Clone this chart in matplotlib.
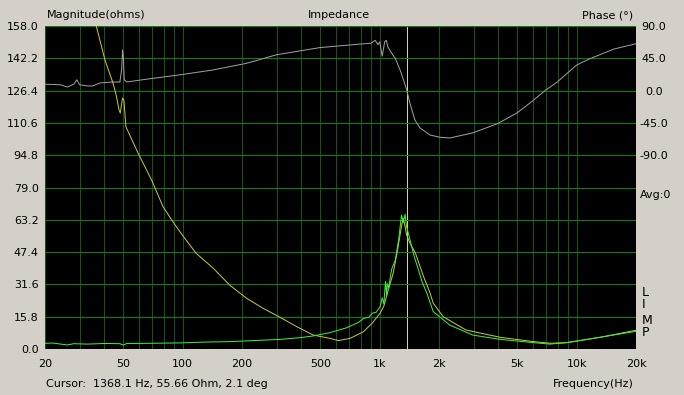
import matplotlib
matplotlib.use("Agg")
import matplotlib.pyplot as plt
from matplotlib.ticker import FixedLocator, NullFormatter

# ---------------- DATA ----------------
# yellow magnitude trace (Hz, ohms)
mag1_freq = [34, 36.5, 40.3, 44.3, 46, 47.5, 48.2, 49.5, 50.3, 51.5, 59.3, 69.5, 79.5,
             87.6, 96.7, 117, 143, 173, 211, 256, 312, 380, 460, 559, 617, 707, 828,
             915, 1005, 1050, 1093, 1170, 1230, 1290, 1316, 1345, 1368, 1420, 1520,
             1670, 1800, 1870, 2100, 2740, 4100, 6050, 7300, 8900, 13100, 19600, 20000]
mag1_ohm = [168, 157.6, 141.4, 130, 124, 117, 115.4, 122.8, 121.8, 108.7, 95.9, 82.7, 69.6,
            63.4, 57.4, 46.8, 39.5, 31.3, 24.8, 19.9, 15.5, 10.9, 6.8, 5.2, 4.1, 5.2, 8.5,
            12.6, 17.5, 21, 27.2, 37, 48, 60, 64, 60, 56, 52, 46.8,
            35.4, 27.5, 22.4, 15.8, 9.3, 5.7, 3.6, 2.8, 3.1, 5.7, 9.0, 9.2]

# green magnitude trace (Hz, ohms)
mag2_freq = [20, 22, 24, 26, 28, 30, 33, 40, 48, 50, 52, 70, 100, 130, 173, 240, 312,
             400, 460, 559, 680, 780, 828, 880, 915, 960, 1005, 1030, 1050, 1070, 1085,
             1093, 1110, 1150, 1200, 1250, 1290, 1320, 1345, 1368, 1420, 1500, 1570,
             1640, 1740, 1870, 2270, 2970, 4100, 6050, 7300, 8900, 13100, 19600, 20000]
mag2_ohm = [2.8, 2.9, 2.4, 2.0, 2.6, 2.5, 2.4, 2.7, 2.6, 1.9, 2.7, 2.8, 3.0, 3.4, 3.6, 4.2, 4.7,
            5.6, 6.4, 8.0, 10.4, 13, 15, 15.5, 17.5, 18, 20.7, 25, 22, 33, 26,
            32, 30, 39, 43.5, 54, 65.5, 62, 66, 60, 54, 45, 39,
            33, 27, 18.3, 11.7, 6.8, 4.7, 3.1, 2.4, 3.1, 5.7, 8.5, 8.7]

# phase trace (Hz, degrees)
phase_freq = [20, 22, 24, 26, 28, 29, 30, 33, 35, 38, 44, 48, 49, 49.5, 50, 50.5, 52, 66,
              97, 142, 211, 300, 500, 700, 900, 950, 980, 1000, 1030, 1060, 1080, 1100,
              1150, 1200, 1280, 1368, 1422, 1509, 1600, 1806, 2022, 2270, 2960, 3968,
              4980, 6000, 6900, 7970, 8980, 10000, 11300, 12300, 15500, 19800, 20000]
phase_deg = [9, 8.5, 8, 5, 9, 15, 8, 6.4, 6.5, 10.6, 12, 12, 30, 56.6, 45, 15, 12, 16,
             22, 28.7, 38, 50, 60, 63.5, 66, 70, 64, 68, 48, 68, 70, 61,
             52, 45, 26, 2, -17, -41, -52, -62, -65, -66, -59, -46,
             -31, -14, 0, 12, 24.5, 35.7, 42.6, 47, 58, 65, 65.3]

cursor_freq = 1368.1

mag_ticks = [0.0, 15.8, 31.6, 47.4, 63.2, 79.0, 94.8, 110.6, 126.4, 142.2, 158.0]
phase_ticks = [90, 45, 0, -45, -90]
freq_ticks = [20, 50, 100, 200, 500, 1000, 2000, 5000, 10000, 20000]
freq_labels = ["20", "50", "100", "200", "500", "1k", "2k", "5k", "10k", "20k"]
freq_grid = [30, 40, 60, 70, 80, 90, 300, 400, 600, 700, 800, 900,
             3000, 4000, 6000, 7000, 8000, 9000]

BG = "#d4d0c8"
HGRID = "#008800"
VGRID = "#1a501a"
LW = 0.72

plt.rcParams["font.family"] = ["DejaVu Sans"]
plt.rcParams["font.size"] = 8

fig = plt.figure(figsize=(6.84, 3.95), dpi=100, facecolor=BG)
ax = fig.add_axes([45 / 684, 46 / 395, 591 / 684, 323 / 395])
ax.set_facecolor("black")

ax.set_xscale("log")
ax.set_xlim(20, 20000)
ax.set_ylim(0, 158)

ax.xaxis.set_major_locator(FixedLocator(freq_ticks))
ax.xaxis.set_minor_locator(FixedLocator(freq_grid))
ax.xaxis.set_minor_formatter(NullFormatter())
ax.set_xticklabels(freq_labels)
ax.set_yticks(mag_ticks)
ax.set_yticklabels([f"{v:.1f}" for v in mag_ticks])

ax.grid(True, which="both", axis="x", color=VGRID, lw=LW, antialiased=False)
ax.grid(True, which="major", axis="y", color=HGRID, lw=LW, antialiased=False)
ax.tick_params(axis="both", which="both", length=0, colors="black")
ax.tick_params(axis="y", pad=4.5)
ax.tick_params(axis="x", pad=7)
for s in ax.spines.values():
    s.set_visible(False)

ax.axvline(cursor_freq, color="#d8d878", lw=LW, zorder=1.5, antialiased=False)

# phase on twin axis (-360 .. 90 so 45 deg per grid step)
ax2 = ax.twinx()
ax2.set_ylim(-360, 90)
ax2.set_yticks(phase_ticks)
ax2.set_yticklabels([f"{v:.1f}" for v in phase_ticks], ha="center")
ax2.tick_params(axis="y", length=0, pad=13)
for s in ax2.spines.values():
    s.set_visible(False)
ax2.plot(phase_freq, phase_deg, color="#a0a0a0", lw=LW)

# magnitude traces scaled onto the same twin axis so they draw on top
ax2.plot(mag1_freq, [v * 450 / 158 - 360 for v in mag1_ohm], color="#c8c832", lw=LW)
ax2.plot(mag2_freq, [v * 450 / 158 - 360 for v in mag2_ohm], color="#3cf03c", lw=LW)

# labels around the plot
fig.text(47 / 684, 1 - 15 / 395, "Magnitude(ohms)", ha="left", va="center")
fig.text(339 / 684, 1 - 15 / 395, "Impedance", ha="center", va="center")
fig.text(633 / 684, 1 - 15 / 395, "Phase (\u00b0)", ha="right", va="center")
fig.text(640 / 684, 1 - 195 / 395, "Avg:0", ha="left", va="center")
for letter, yy in zip("LIMP", [293, 305, 321, 333]):
    fig.text(642 / 684, 1 - yy / 395, letter, ha="left", va="center", fontsize=9)
fig.text(46 / 684, 1 - 384 / 395, "Cursor:  1368.1 Hz, 55.66 Ohm, 2.1 deg",
         ha="left", va="center")
fig.text(634 / 684, 1 - 384 / 395, "Frequency(Hz)", ha="right", va="center")

fig.savefig("out.png", dpi=100, facecolor=BG)
